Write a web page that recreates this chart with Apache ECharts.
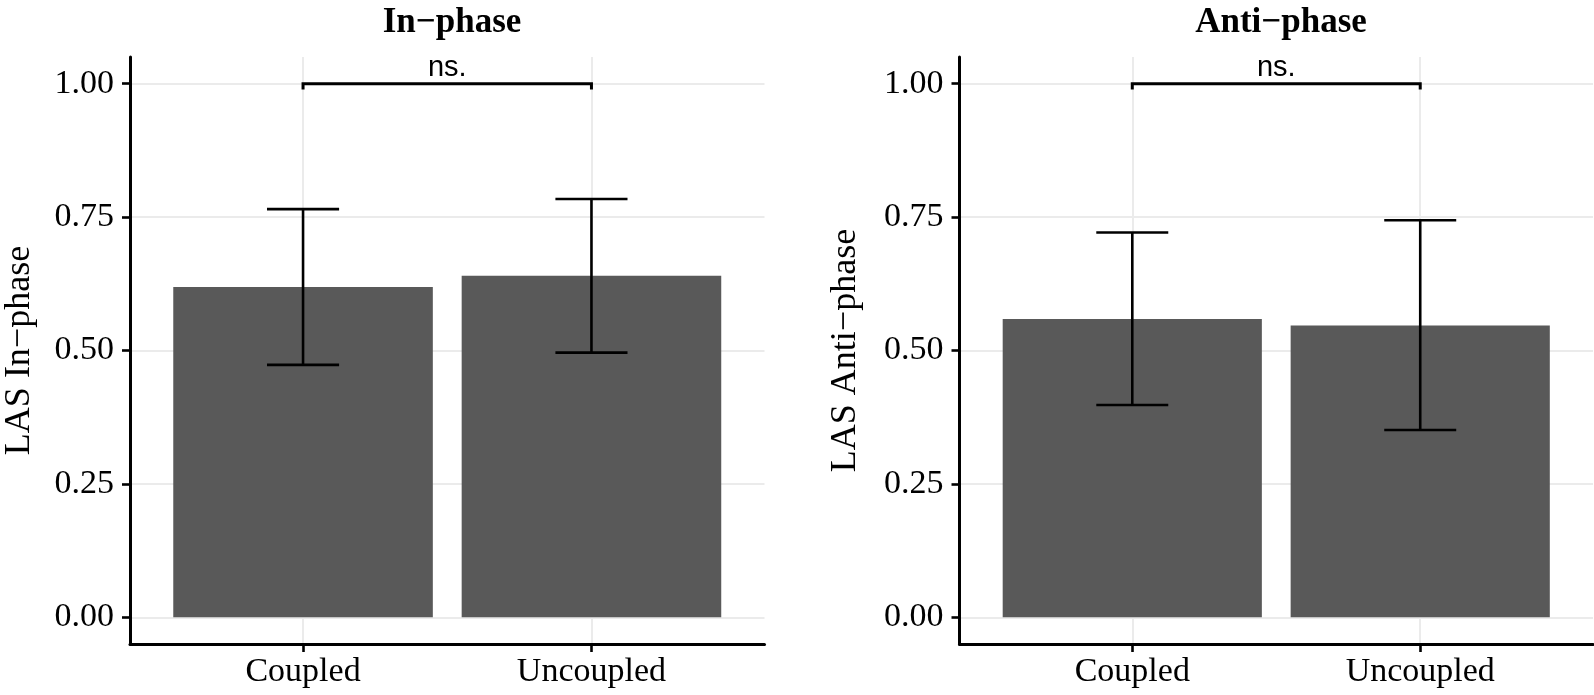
<!DOCTYPE html>
<html>
<head>
<meta charset="utf-8">
<script src="https://cdn.jsdelivr.net/npm/echarts@6/dist/echarts.min.js"></script>
<style>
html,body{margin:0;padding:0;background:#fff;}
#chart{width:1594px;height:695px;}
</style>
</head>
<body>
<div id="chart"></div>
<script>
// ---- data ----
const categories = ['Coupled', 'Uncoupled'];
const yTicks = [0, 0.25, 0.5, 0.75, 1.0];

const inPhaseMean = [0.619, 0.640];
const inPhaseLow  = [0.473, 0.496];
const inPhaseHigh = [0.765, 0.784];

const antiPhaseMean = [0.559, 0.547];
const antiPhaseLow  = [0.398, 0.351];
const antiPhaseHigh = [0.721, 0.744];

const panelTitles = ['In\u2212phase', 'Anti\u2212phase'];
const yTitles = ['LAS In\u2212phase', 'LAS Anti\u2212phase'];

// significance bracket: from category 1 to 2 at y = 1.00
const sigFrom = [1, 1];
const sigTo = [2, 2];
const sigY = [1.0, 1.0];
const sigLabels = ['ns.', 'ns.'];

// ---- helpers ----
const serif = 'Liberation Serif';
const catPos = categories.map((c, i) => i + 1);

function barData(means) { return means.map((v, i) => [catPos[i], v]); }
function errData(lo, hi) { return lo.map((v, i) => [catPos[i], v, hi[i]]); }

const capHalf = 0.125;
function errRender(params, api) {
  const x = api.value(0), lo = api.value(1), hi = api.value(2);
  const pLo = api.coord([x, lo]);
  const pHi = api.coord([x, hi]);
  const xl = api.coord([x - capHalf, lo])[0];
  const xr = api.coord([x + capHalf, lo])[0];
  const st = { stroke: '#000', lineWidth: 2.6 };
  return {
    type: 'group',
    children: [
      { type: 'line', shape: { x1: pLo[0], y1: pLo[1], x2: pHi[0], y2: pHi[1] }, style: st },
      { type: 'line', shape: { x1: xl, y1: pHi[1], x2: xr, y2: pHi[1] }, style: st },
      { type: 'line', shape: { x1: xl, y1: pLo[1], x2: xr, y2: pLo[1] }, style: st }
    ]
  };
}

const tip = 0.011;
function sigRender(params, api) {
  const i = params.dataIndex;
  const x1 = api.value(0), x2 = api.value(1), y = api.value(2);
  const a = api.coord([x1, y - tip]);
  const b = api.coord([x1, y]);
  const c = api.coord([x2, y]);
  const d = api.coord([x2, y - tip]);
  const m = api.coord([(x1 + x2) / 2, y]);
  return {
    type: 'group',
    children: [
      { type: 'polyline', shape: { points: [a, b, c, d] }, style: { stroke: '#000', lineWidth: 3, fill: null } },
      { type: 'text', x: m[0], y: m[1] - 1.5, style: { text: sigLabels[i], fill: '#000', font: '29px "Liberation Sans"', textAlign: 'center', textVerticalAlign: 'bottom' } }
    ]
  };
}

const grids = [
  { left: 130, right: 829.5, top: 57, bottom: 51 },
  { left: 959.5, right: 1, top: 57, bottom: 51 }
];

function xAxisFor(i) {
  return {
    type: 'value', gridIndex: i, min: 0.4, max: 2.6,
    axisLine: { show: true, onZero: false, lineStyle: { color: '#000', width: 3 } },
    axisTick: { show: true, length: 8, customValues: catPos, lineStyle: { color: '#000', width: 2.6 } },
    axisLabel: {
      customValues: catPos, margin: 11, color: '#000', fontFamily: serif, fontSize: 34,
      formatter: v => categories[Math.round(v) - 1] || ''
    },
    splitLine: { show: true, lineStyle: { color: '#ebebeb', width: 2 } }
  };
}
function yAxisFor(i, gap) {
  return {
    type: 'value', gridIndex: i, min: -0.05, max: 1.05,
    name: yTitles[i], nameLocation: 'middle', nameGap: gap,
    nameTextStyle: { fontFamily: serif, fontSize: 36, color: '#000' },
    axisLine: { show: true, onZero: false, lineStyle: { color: '#000', width: 3 } },
    axisTick: { show: true, length: 8, customValues: yTicks, lineStyle: { color: '#000', width: 2.6 } },
    axisLabel: {
      customValues: yTicks, margin: 16, color: '#000', fontFamily: serif, fontSize: 34,
      formatter: v => Number(v).toFixed(2)
    },
    splitLine: { show: true, lineStyle: { color: '#ebebeb', width: 2 } }
  };
}

const chart = echarts.init(document.getElementById('chart'), null, { renderer: 'canvas' });
chart.setOption({
  animation: false,
  backgroundColor: '#fff',
  title: [
    { text: panelTitles[0], left: 447, top: 0, textAlign: 'center', textStyle: { fontFamily: serif, fontWeight: 'bold', fontSize: 35, color: '#000' } },
    { text: panelTitles[1], left: 1276, top: 0, textAlign: 'center', textStyle: { fontFamily: serif, fontWeight: 'bold', fontSize: 35, color: '#000' } }
  ],
  grid: grids,
  xAxis: [xAxisFor(0), xAxisFor(1)],
  yAxis: [yAxisFor(0, 92), yAxisFor(1, 96)],
  series: [
    { type: 'bar', xAxisIndex: 0, yAxisIndex: 0, data: barData(inPhaseMean), barWidth: '90%', itemStyle: { color: '#595959' }, z: 2 },
    { type: 'bar', xAxisIndex: 1, yAxisIndex: 1, data: barData(antiPhaseMean), barWidth: '90%', itemStyle: { color: '#595959' }, z: 2 },
    { type: 'custom', xAxisIndex: 0, yAxisIndex: 0, data: errData(inPhaseLow, inPhaseHigh), renderItem: errRender, z: 5 },
    { type: 'custom', xAxisIndex: 1, yAxisIndex: 1, data: errData(antiPhaseLow, antiPhaseHigh), renderItem: errRender, z: 5 },
    { type: 'custom', xAxisIndex: 0, yAxisIndex: 0, data: [[sigFrom[0], sigTo[0], sigY[0]]], renderItem: sigRender, z: 5 },
    { type: 'custom', xAxisIndex: 1, yAxisIndex: 1, data: [[sigFrom[1], sigTo[1], sigY[1]]], renderItem: sigRender, z: 5 }
  ]
});
</script>
</body>
</html>
